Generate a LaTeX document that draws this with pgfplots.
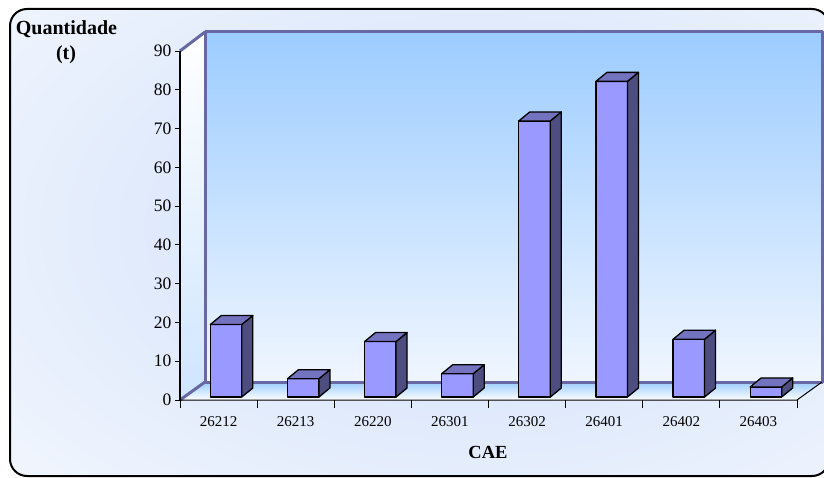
\documentclass[border=0pt]{standalone}
\usepackage{pgfplots}
\usepackage{pgfplotstable}
\pgfplotsset{compat=1.18}
\usepackage{fontspec}
\setmainfont{Liberation Serif}
\definecolor{barfront}{RGB}{153,153,255}
\definecolor{barside}{RGB}{77,77,128}
\definecolor{bartop}{RGB}{115,115,191}
\definecolor{wallc}{RGB}{104,104,164}
\definecolor{wallblue}{RGB}{156,204,255}
\definecolor{wallpale}{RGB}{240,246,255}
\definecolor{bgblue}{RGB}{206,222,250}
\pgfdeclareplotmark{empty}{}
\pgfplotstableread{
x y
0 18.7
1 4.7
2 14.3
3 6.0
4 71.2
5 81.4
6 14.9
7 2.6
}\datatable
\begin{document}
\begin{tikzpicture}[x=1pt,y=1pt]
\useasboundingbox (0,0) rectangle (824,477);
\begin{scope}
\clip[rounded corners=17pt] (10,1) rectangle (829,468);
\fill[white] (0,0) rectangle (830,477);
\shade[inner color=bgblue, outer color=white] (470,250) ellipse [x radius=860, y radius=520];
\end{scope}
\draw[line width=2pt, rounded corners=17pt] (10,1) rectangle (829,468);
% back wall
\shade[top color=wallblue, bottom color=wallpale] (205,95) rectangle (822,445);
% floor
\shade[top color=wallblue, bottom color=white] (180,77) -- (205,95) -- (822,95) -- (797,77) -- cycle;
% left wall
\shade[top color=white, bottom color=wallpale!60!wallblue] (180,77) -- (205,95) -- (205,445) -- (180,426) -- cycle;
\draw[wallc, line width=3pt, line join=round] (205,95) rectangle (822,445);
\draw[wallc, line width=3pt] (180,426) -- (205,445);
\draw[wallc, line width=3pt] (180,77) -- (205,95);
\begin{axis}[
  at={(180pt,77pt)}, anchor=south west,
  scale only axis, width=617pt, height=349pt,
  xmin=-0.5972, xmax=7.4028, ymin=-0.7736, ymax=89.2264,
  axis line style={draw=none},
  clip=false,
  tick pos=left, tick align=outside,
  xtick={-0.5972,0.4028,1.4028,2.4028,3.4028,4.4028,5.4028,6.4028,7.4028},
  xticklabels={26212,26213,26220,26301,26302,26401,26402,26403,{}},
  xticklabel style={xshift=38.56pt, yshift=-8pt, font=\fontsize{15}{15}\selectfont},
  ytick={-0.7736,9.2264,19.2264,29.2264,39.2264,49.2264,59.2264,69.2264,79.2264,89.2264},
  yticklabels={0,10,20,30,40,50,60,70,80,90},
  yticklabel style={font=\fontsize{17.5}{17.5}\selectfont},
  major tick length=5pt,
  xtick style={black, line width=1pt, /pgfplots/major tick length=8pt},
  ytick style={black, line width=1pt},
]
\addplot[ybar, bar width=31.5pt, fill=barfront, draw=black, line width=1.3pt, line join=round]
  table[x=x, y=y] {\datatable};
\addplot[scatter, only marks, mark=empty,
  visualization depends on={\thisrow{y} \as \barval},
  scatter/@pre marker code/.code={%
    \pgfmathsetmacro{\Hn}{-\barval*3.8778}%
    \pgfmathsetmacro{\Hs}{9-\barval*3.8778}%
    \filldraw[fill=barside, draw=black, line width=1.3pt, line join=round] (15.75pt,0pt) -- (26.75pt,9pt) -- (26.75pt,\Hs pt) -- (15.75pt,\Hn pt) -- cycle;
    \filldraw[fill=bartop, draw=black, line width=1.3pt, line join=round] (-15.75pt,0pt) -- (15.75pt,0pt) -- (26.75pt,9pt) -- (-4.75pt,9pt) -- cycle;
  },
  scatter/@post marker code/.code={}
] table[x=x, y=y] {\datatable};
\end{axis}
\draw[black, line width=1.6pt] (180,77) -- (180,426);
\draw[black, line width=1pt] (180,77) -- (797,77) -- (822,95);
\node[font=\fontsize{20}{20}\selectfont\bfseries, anchor=base] at (66.5,442) {Quantidade};
\node[font=\fontsize{20}{20}\selectfont\bfseries, anchor=base] at (66,417) {(t)};
\node[font=\fontsize{18.5}{18.5}\selectfont\bfseries, anchor=base] at (488,19) {CAE};
\end{tikzpicture}
\end{document}
